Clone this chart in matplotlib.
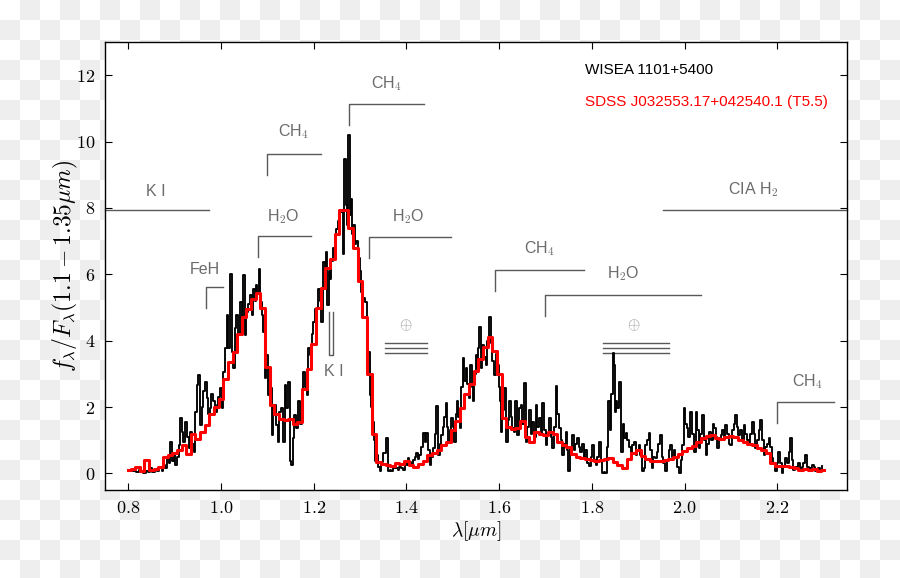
import numpy as np
import matplotlib
matplotlib.use('Agg')
import matplotlib.pyplot as plt

plt.rcParams['mathtext.fontset'] = 'cm'
plt.rcParams['font.family'] = ['Liberation Sans', 'DejaVu Sans']

################################################################################
# WISEA 1101+5400 spectrum (black)
lam_wise = [
	0.805, 0.810, 0.815, 0.820, 0.825, 0.830, 0.835, 0.840, 0.845, 0.849,
	0.855, 0.860, 0.864, 0.870, 0.874, 0.878, 0.882, 0.885, 0.889, 0.892,
	0.896, 0.900, 0.903, 0.907, 0.910, 0.913, 0.917, 0.921, 0.925, 0.928,
	0.932, 0.935, 0.939, 0.943, 0.946, 0.950, 0.953, 0.957, 0.960, 0.964,
	0.967, 0.971, 0.974, 0.978, 0.981, 0.985, 0.989, 0.993, 0.996, 1.000,
	1.003, 1.007, 1.010, 1.014, 1.018, 1.022, 1.025, 1.028, 1.032, 1.035,
	1.039, 1.043, 1.046, 1.050, 1.053, 1.057, 1.060, 1.064, 1.068, 1.071,
	1.074, 1.077, 1.080, 1.082, 1.086, 1.089, 1.092, 1.096, 1.100, 1.104,
	1.107, 1.111, 1.114, 1.118, 1.121, 1.124, 1.128, 1.132, 1.136, 1.139,
	1.143, 1.147, 1.150, 1.153, 1.156, 1.160, 1.163, 1.168, 1.172, 1.176,
	1.179, 1.183, 1.187, 1.190, 1.194, 1.197, 1.201, 1.204, 1.208, 1.211,
	1.215, 1.218, 1.222, 1.225, 1.228, 1.231, 1.234, 1.236, 1.240, 1.243,
	1.247, 1.250, 1.254, 1.258, 1.262, 1.265, 1.267, 1.271, 1.273, 1.276,
	1.279, 1.281, 1.284, 1.287, 1.290, 1.294, 1.297, 1.301, 1.305, 1.308,
	1.312, 1.316, 1.319, 1.322, 1.325, 1.328, 1.331, 1.335, 1.337, 1.341,
	1.344, 1.348, 1.351, 1.355, 1.358, 1.362, 1.366, 1.369, 1.373, 1.376,
	1.380, 1.383, 1.387, 1.390, 1.394, 1.398, 1.401, 1.405, 1.408, 1.412,
	1.416, 1.419, 1.423, 1.426, 1.430, 1.434, 1.438, 1.441, 1.445, 1.448,
	1.452, 1.455, 1.459, 1.462, 1.466, 1.470, 1.473, 1.477, 1.480, 1.483,
	1.486, 1.489, 1.491, 1.495, 1.498, 1.501, 1.505, 1.508, 1.510, 1.513,
	1.516, 1.520, 1.523, 1.527, 1.530, 1.533, 1.536, 1.540, 1.543, 1.545,
	1.548, 1.550, 1.553, 1.555, 1.558, 1.562, 1.565, 1.569, 1.573, 1.576,
	1.580, 1.584, 1.587, 1.591, 1.594, 1.597, 1.600, 1.602, 1.605, 1.609,
	1.612, 1.616, 1.620, 1.623, 1.627, 1.630, 1.634, 1.636, 1.641, 1.644,
	1.648, 1.652, 1.656, 1.659, 1.662, 1.666, 1.670, 1.673, 1.677, 1.681,
	1.684, 1.688, 1.691, 1.695, 1.699, 1.702, 1.705, 1.709, 1.713, 1.716,
	1.720, 1.724, 1.727, 1.731, 1.734, 1.738, 1.741, 1.745, 1.748, 1.750,
	1.755, 1.759, 1.763, 1.766, 1.770, 1.773, 1.777, 1.780, 1.784, 1.788,
	1.791, 1.795, 1.799, 1.802, 1.806, 1.810, 1.813, 1.817, 1.820, 1.823,
	1.827, 1.830, 1.834, 1.837, 1.840, 1.843, 1.846, 1.849, 1.850, 1.853,
	1.857, 1.861, 1.865, 1.868, 1.871, 1.875, 1.878, 1.882, 1.885, 1.889,
	1.893, 1.896, 1.900, 1.903, 1.906, 1.910, 1.913, 1.917, 1.921, 1.924,
	1.927, 1.931, 1.934, 1.938, 1.941, 1.944, 1.948, 1.952, 1.956, 1.960,
	1.964, 1.967, 1.970, 1.974, 1.978, 1.982, 1.986, 1.989, 1.993, 1.996,
	2.000, 2.003, 2.006, 2.010, 2.014, 2.018, 2.022, 2.025, 2.028, 2.032,
	2.036, 2.039, 2.043, 2.047, 2.050, 2.054, 2.058, 2.062, 2.065, 2.069,
	2.072, 2.076, 2.079, 2.083, 2.086, 2.090, 2.094, 2.097, 2.100, 2.104,
	2.107, 2.111, 2.114, 2.118, 2.122, 2.125, 2.129, 2.132, 2.136, 2.140,
	2.143, 2.147, 2.150, 2.154, 2.158, 2.161, 2.165, 2.168, 2.172, 2.176,
	2.179, 2.183, 2.186, 2.190, 2.193, 2.197, 2.200, 2.204, 2.207, 2.211,
	2.214, 2.218, 2.222, 2.226, 2.229, 2.233, 2.236, 2.240, 2.243, 2.247,
	2.250, 2.254, 2.258, 2.261, 2.265, 2.269, 2.272, 2.276, 2.280, 2.283,
	2.287, 2.290, 2.294, 2.297]
flux_wise = [
	0.10, 0.06, 0.08, 0.03, 0.10, 0.05, 0.02, 0.08, 0.04, 0.16,
	0.05, 0.10, 0.06, 0.15, 0.08, 0.26, 0.15, 0.46, 0.30, 0.96,
	0.36, 0.55, 0.26, 0.50, 0.87, 1.66, 1.26, 0.95, 1.56, 1.10,
	0.76, 1.26, 0.90, 0.66, 1.86, 2.67, 2.97, 1.46, 2.00, 2.47,
	2.77, 2.26, 1.80, 1.96, 2.40, 2.17, 1.85, 2.07, 2.30, 2.57,
	1.96, 3.07, 3.77, 4.77, 3.77, 6.02, 3.67, 3.17, 4.37, 4.77,
	4.17, 5.17, 4.67, 5.98, 4.17, 4.87, 5.10, 5.37, 4.77, 5.57,
	5.20, 5.67, 5.40, 6.17, 5.17, 4.77, 4.27, 2.87, 3.57, 2.37,
	2.57, 1.16, 2.07, 2.07, 1.46, 0.96, 1.86, 1.96, 0.96, 2.67,
	1.96, 2.77, 0.36, 0.26, 1.06, 1.77, 1.36, 2.17, 1.50, 1.77,
	3.07, 2.60, 2.37, 3.77, 3.57, 4.20, 4.57, 4.97, 4.97, 5.57,
	5.20, 4.57, 6.38, 5.90, 6.68, 5.08, 6.10, 5.87, 6.40, 6.78,
	7.00, 7.38, 7.60, 7.88, 7.88, 6.60, 9.48, 8.10, 7.50, 10.20,
	7.80, 8.28, 7.20, 7.49, 6.90, 7.00, 6.48, 6.10, 5.47, 5.30,
	5.17, 4.60, 3.67, 2.37, 2.00, 1.56, 1.00, 0.36, 0.56, 0.20,
	0.06, 0.35, 0.61, 0.61, 1.06, 0.06, 0.10, 0.06, 0.15, 0.21,
	0.15, 0.11, 0.20, 0.15, 0.11, 0.30, 0.25, 0.46, 0.35, 0.26,
	0.40, 0.50, 0.61, 0.45, 0.56, 0.80, 1.21, 0.96, 1.21, 0.70,
	0.26, 0.50, 0.76, 1.20, 2.02, 0.56, 0.90, 1.16, 1.40, 1.70,
	2.11, 1.40, 0.96, 1.30, 1.66, 1.40, 0.96, 1.80, 2.17, 1.70,
	1.36, 2.60, 3.47, 2.80, 3.17, 2.70, 2.26, 3.27, 2.60, 2.17,
	3.00, 3.57, 3.20, 3.77, 4.42, 3.17, 3.87, 3.50, 3.27, 4.00,
	4.72, 3.92, 3.40, 2.97, 3.60, 3.27, 2.60, 2.17, 1.26, 1.90,
	2.57, 0.96, 1.60, 2.17, 1.70, 1.36, 1.26, 2.17, 1.16, 1.96,
	2.07, 1.50, 2.72, 0.96, 1.40, 1.91, 1.20, 1.56, 1.10, 2.07,
	1.40, 1.66, 1.20, 2.11, 1.30, 0.86, 1.20, 1.66, 1.10, 0.76,
	1.40, 2.62, 1.80, 1.36, 1.00, 0.56, 0.90, 1.26, 0.70, 0.06,
	0.80, 1.16, 0.70, 0.90, 1.06, 0.80, 0.66, 0.90, 0.46, 0.70,
	0.30, 0.21, 0.50, 0.86, 0.40, 0.26, 0.50, 0.96, 0.40, 0.01,
	0.05, 0.01, 0.80, 2.17, 1.31, 2.40, 3.62, 3.27, 1.86, 2.17,
	1.96, 2.77, 0.66, 1.50, 1.06, 1.21, 1.00, 0.80, 0.66, 0.86,
	0.96, 0.56, 0.70, 0.86, 0.56, 0.06, 0.16, 0.86, 1.00, 1.21,
	0.70, 0.16, 0.50, 0.46, 0.66, 0.90, 1.16, 0.50, 0.30, 0.06,
	0.40, 0.70, 0.86, 0.50, 0.70, 0.46, 0.20, 0.01, 0.40, 0.86,
	1.96, 1.50, 1.36, 1.10, 1.86, 1.20, 0.66, 1.86, 1.30, 0.76,
	1.20, 1.76, 1.00, 0.56, 0.90, 1.26, 1.00, 1.50, 1.36, 1.10,
	0.76, 1.00, 1.16, 1.30, 1.10, 1.46, 1.20, 0.90, 0.86, 1.30,
	1.50, 1.76, 1.40, 1.16, 1.30, 1.00, 1.46, 1.20, 1.00, 0.86,
	1.20, 1.56, 1.20, 0.76, 1.00, 1.30, 1.61, 1.00, 0.56, 0.80,
	0.90, 1.06, 0.80, 0.46, 0.30, 0.06, 0.30, 0.66, 0.30, 0.01,
	0.20, 0.46, 0.30, 0.66, 1.06, 0.40, 0.10, 0.20, 0.16, 0.30,
	0.06, 0.20, 0.30, 0.56, 0.20, 0.06, 0.15, 0.26, 0.20, 0.06,
	0.10, 0.16, 0.10, 0.21]

# SDSS J032553.17+042540.1 (T5.5) template (red), 0.01 um sampling
lam_sdss = [round(0.80 + 0.01*i, 2) for i in range(151)]
flux_sdss = [
	0.10, 0.12, 0.20, 0.08, 0.40, 0.10, 0.12, 0.18, 0.50, 0.55,
	0.62, 0.70, 0.85, 0.60, 1.20, 1.05, 1.25, 1.45, 1.80, 2.00,
	2.25, 2.85, 3.35, 3.65, 4.20, 4.70, 4.95, 5.25, 5.45, 5.00,
	3.20, 2.05, 1.80, 1.65, 1.60, 1.65, 1.50, 1.55, 2.55, 3.15,
	3.90, 5.00, 5.60, 6.20, 6.45, 7.20, 7.95, 7.95, 7.40, 6.80,
	5.80, 4.70, 3.00, 1.20, 0.35, 0.28, 0.25, 0.22, 0.30, 0.28,
	0.38, 0.25, 0.20, 0.28, 0.36, 0.55, 0.62, 0.70, 0.87, 0.95,
	1.30, 1.58, 1.96, 2.40, 2.70, 3.10, 3.45, 3.80, 4.12, 3.70,
	3.00, 1.66, 1.40, 1.35, 1.38, 1.58, 1.10, 0.96, 1.26, 1.20,
	1.16, 1.25, 1.20, 0.96, 0.85, 0.80, 0.58, 0.50, 0.46, 0.43,
	0.41, 0.38, 0.40, 0.44, 0.46, 0.35, 0.25, 0.16, 0.45, 0.62,
	0.71, 0.52, 0.45, 0.38, 0.36, 0.36, 0.40, 0.45, 0.50, 0.60,
	0.68, 0.76, 0.84, 0.95, 1.08, 1.12, 1.15, 1.08, 1.05, 1.10,
	1.12, 1.10, 1.00, 0.95, 0.90, 0.85, 0.78, 0.70, 0.62, 0.30,
	0.22, 0.22, 0.21, 0.20, 0.15, 0.11, 0.12, 0.10, 0.12, 0.08,
	0.10]

# Absorption band markers: label, start, end, top of bracket, label position
bands = [
	('FeH',          0.968, 1.004,  5.62, 0.966,  6.14),
	('H$_\\mathsf{2}$O', 1.080, 1.194,  7.16, 1.135,  7.73),
	('CH$_\\mathsf{4}$', 1.099, 1.215,  9.62, 1.157, 10.29),
	('CH$_\\mathsf{4}$', 1.277, 1.437, 11.13, 1.357, 11.76),
	('H$_\\mathsf{2}$O', 1.320, 1.495,  7.13, 1.404,  7.73),
	('CH$_\\mathsf{4}$', 1.591, 1.783,  6.14, 1.688,  6.77),
	('H$_\\mathsf{2}$O', 1.699, 2.036,  5.38, 1.867,  6.02),
	('CH$_\\mathsf{4}$', 2.200, 2.323,  2.14, 2.265,  2.77),
]
flat_bands = [
	('K I',              0.750, 0.975, 7.94, 0.860, 8.50),
	('CIA H$_\\mathsf{2}$', 1.953, 2.350, 7.94, 2.148, 8.54),
]
telluric = [(1.353, 1.445, 1.398), (1.824, 1.966, 1.890)]
telluric_levels = [3.92, 3.77, 3.62]
ki_lines = [1.233, 1.242]

xticks = [0.8, 1.0, 1.2, 1.4, 1.6, 1.8, 2.0, 2.2]
yticks = [0, 2, 4, 6, 8, 10, 12]

################################################################################
fig = plt.figure(figsize=(9, 5.78), dpi=100)

# transparent-looking checker background
rows, cols = np.indices((578, 900))
bg = np.where(((rows//20) + (cols//20)) % 2 == 1, 0.937, 1.0)
fig.figimage(np.dstack([bg, bg, bg]), xo=0, yo=0, zorder=-10)

ax = fig.add_axes([0.1167, 0.1522, 0.8244, 0.7751])
ax.set_facecolor('white')

ax.step(lam_wise, flux_wise, where='mid', color='black', lw=1.35, zorder=3)
ax.step(lam_sdss, flux_sdss, where='mid', color='red', lw=2.2, zorder=4)

gray_line = '0.35'
gray_text = '0.42'
drop = 0.63
for lab, x0, x1, ytop, tx, ty in bands:
	ax.plot([x0, x0, x1], [ytop - drop, ytop, ytop], color=gray_line, lw=1)
	ax.text(tx, ty, lab, color=gray_text, fontsize=11.5, ha='center', va='center')
for lab, x0, x1, y, tx, ty in flat_bands:
	ax.plot([x0, x1], [y, y], color=gray_line, lw=1, clip_on=False)
	ax.text(tx, ty, lab, color=gray_text, fontsize=11.5, ha='center', va='center')

# K I doublet
ax.plot([ki_lines[0], ki_lines[0], ki_lines[1], ki_lines[1]], [4.87, 3.57, 3.57, 4.87],
	color=gray_line, lw=1, zorder=5)
ax.text(1.243, 3.07, 'K I', color=gray_text, fontsize=11.5, ha='center', va='center')

# telluric bands
for x0, x1, xc in telluric:
	for lev in telluric_levels:
		ax.plot([x0, x1], [lev, lev], color=gray_line, lw=1)
	ax.text(xc, 4.45, r'$\oplus$', color='0.6', fontsize=11.5, ha='center', va='center')

ax.text(1.785, 12.15, 'WISEA 1101+5400', color='black', fontsize=11, va='center')
ax.text(1.785, 11.19, 'SDSS J032553.17+042540.1 (T5.5)', color='red', fontsize=11, va='center')

ax.set_xlim(0.75, 2.35)
ax.set_ylim(-0.5, 13)
ax.set_xticks(xticks)
ax.set_xticklabels(['$%.1f$' % t for t in xticks])
ax.set_yticks(yticks)
ax.set_yticklabels(['$%d$' % t for t in yticks])
ax.tick_params(direction='in', length=5, width=0.8, top=True, right=True, labelsize=13, pad=7)
for s in ax.spines.values():
	s.set_linewidth(1)

ax.set_xlabel(r'$\lambda[\mu m]$', fontsize=14, labelpad=2)
ax.set_ylabel(r'$f_\lambda/F_\lambda(1.1-1.35\mu m)$', fontsize=17, labelpad=-3)

fig.savefig('out.png', dpi=100)
